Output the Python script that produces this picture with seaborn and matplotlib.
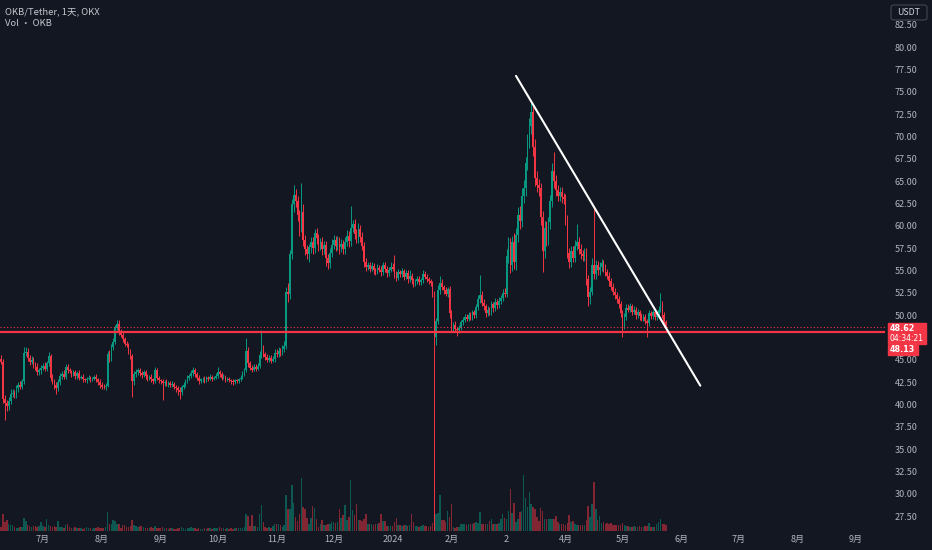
import numpy as np
import pandas as pd
import matplotlib
matplotlib.use("Agg")
import matplotlib.pyplot as plt
import matplotlib.dates as mdates
from matplotlib.patches import Rectangle, FancyBboxPatch
import seaborn as sns


# Datos diarios OKB/USDT, 2023-06-09 .. 2024-05-24
first_open = 45.1

close_jun = [44.8, 40.6, 40.2, 39.8, 40.4, 41.2, 41.3, 41.0, 41.8, 42.2,
             42.0, 42.6, 45.8, 45.9, 45.2, 44.8, 45.0, 44.4, 44.2, 43.6,
             43.8, 44.1]
close_jul = [44.3, 44.0, 44.6, 45.4, 43.0, 42.6, 42.2, 41.8, 42.5, 43.2,
             43.4, 43.1, 44.2, 43.8, 43.7, 43.4, 43.6, 43.2, 43.5, 43.0,
             43.1, 42.8, 42.7, 42.9, 43.0, 42.8, 42.9, 43.1, 42.8, 42.5,
             42.2]
close_aug = [42.0, 41.9, 42.1, 45.6, 45.2, 46.4, 47.0, 48.6, 49.0, 48.2,
             47.8, 47.3, 46.8, 46.6, 46.0, 45.4, 42.6, 43.4, 43.6, 43.8,
             43.5, 43.3, 43.6, 43.2, 42.9, 43.1, 42.8, 42.6, 43.8, 43.0,
             42.7]
close_sep = [42.6, 42.4, 42.5, 42.3, 42.4, 42.2, 42.3, 42.0, 41.8, 41.6,
             41.4, 41.9, 42.2, 42.6, 43.0, 43.2, 43.5, 43.8, 43.4, 43.0,
             42.6, 42.8, 42.9, 42.7, 43.0, 42.9, 43.1, 42.9, 43.0, 43.2]
close_oct = [43.6, 43.4, 43.0, 43.1, 42.8, 42.9, 42.7, 42.6, 42.5, 42.7,
             42.6, 42.8, 43.0, 43.4, 43.8, 46.0, 44.6, 44.1, 43.9, 44.2,
             44.0, 44.3, 45.5, 46.2, 45.6, 45.3, 45.0, 45.2, 44.9, 45.1,
             45.8]
close_nov = [45.6, 46.0, 45.8, 46.2, 46.5, 52.6, 52.4, 56.8, 62.4, 63.5,
             62.8, 61.2, 59.8, 61.6, 58.4, 57.4, 56.9, 57.6, 58.2, 57.5,
             59.2, 58.6, 57.8, 58.2, 57.4, 57.9, 56.4, 55.8, 57.0, 57.9]
close_dec = [58.4, 57.8, 58.3, 57.6, 58.0, 57.4, 58.2, 58.9, 58.3, 59.8,
             60.2, 59.1, 58.6, 59.6, 58.8, 57.8, 56.0, 55.4, 55.6, 55.2,
             55.5, 55.0, 54.9, 55.3, 55.1, 54.8, 55.6, 55.2, 54.7, 55.1,
             55.4]
close_jan = [55.2, 54.6, 54.2, 54.8, 54.6, 54.9, 54.3, 54.7, 54.0, 54.4,
             53.9, 53.6, 53.8, 54.1, 53.7, 53.9, 54.6, 54.3, 54.0, 53.8,
             53.6, 52.4, 47.6, 49.3, 52.8, 53.6, 53.1, 52.8, 52.4, 52.9,
             50.2]
close_feb = [48.6, 48.9, 48.4, 48.3, 48.6, 49.2, 49.5, 49.8, 49.6, 50.0,
             49.7, 50.3, 50.0, 50.9, 51.8, 52.3, 51.4, 51.0, 50.2, 50.6,
             50.3, 51.2, 50.8, 51.5, 51.1, 51.6, 51.9, 52.5, 52.4]
close_mar = [56.6, 57.8, 55.6, 58.2, 56.0, 59.0, 61.2, 60.6, 63.4, 64.2,
             67.0, 69.5, 71.2, 72.8, 68.8, 65.4, 64.6, 64.2, 61.0, 57.2,
             59.8, 58.6, 60.4, 62.8, 66.2, 65.0, 64.0, 63.4, 63.8, 63.2,
             63.0]
close_apr = [60.6, 57.0, 56.0, 57.2, 56.4, 57.8, 58.2, 57.4, 56.8, 56.6,
             57.0, 54.0, 52.0, 52.6, 55.6, 54.6, 55.6, 55.0, 55.4, 55.8,
             55.2, 54.8, 54.4, 53.8, 53.2, 52.6, 52.2, 51.8, 51.2, 50.2]
close_may = [48.8, 49.8, 50.8, 50.6, 51.0, 50.4, 50.6, 50.0, 50.3, 49.9,
             49.6, 49.8, 49.3, 49.1, 50.2, 49.9, 50.3, 49.8, 50.2, 50.6,
             51.2, 50.0, 49.2, 48.62]

# Mechas: lo que sobresale por encima / por debajo del cuerpo
up_jun = [0.4, 0.3, 0.5, 0.3, 0.4, 0.5, 0.4, 0.3, 0.4, 0.3,
          0.4, 0.3, 0.6, 0.5, 0.4, 0.3, 0.4, 0.3, 0.3, 0.4, 0.3, 0.3]
dn_jun = [0.3, 0.4, 1.9, 0.5, 0.4, 0.3, 0.4, 0.3, 0.3, 0.4,
          0.3, 0.3, 0.3, 0.4, 0.3, 0.4, 0.3, 0.3, 0.4, 0.3, 0.3, 0.4]
up_jul = [0.3, 0.4, 0.3, 0.5, 0.3, 0.4, 0.3, 0.3, 0.4, 0.3,
          0.3, 0.4, 0.3, 0.3, 0.3, 0.2, 0.3, 0.3, 0.2, 0.3,
          0.2, 0.3, 0.2, 0.2, 0.3, 0.2, 0.2, 0.2, 0.3, 0.2, 0.3]
dn_jul = [0.3, 0.3, 0.3, 0.3, 0.4, 0.3, 0.5, 0.6, 0.3, 0.3,
          0.3, 0.3, 0.3, 0.3, 0.2, 0.3, 0.2, 0.3, 0.3, 0.3,
          0.2, 0.3, 0.2, 0.3, 0.2, 0.3, 0.2, 0.2, 0.3, 0.3, 0.4]
up_aug = [0.3, 0.3, 0.3, 0.4, 0.5, 0.4, 0.4, 0.3, 0.4, 0.5,
          0.3, 0.4, 0.3, 0.3, 0.3, 0.2, 0.3, 0.3, 0.4, 0.3,
          0.3, 0.2, 0.3, 0.3, 0.2, 0.2, 0.3, 0.2, 0.4, 0.3, 0.2]
dn_aug = [0.3, 0.2, 0.3, 0.2, 0.4, 0.3, 0.3, 0.2, 0.3, 0.4,
          0.3, 0.3, 0.3, 0.2, 0.3, 0.3, 1.8, 0.4, 0.3, 0.3,
          0.3, 0.3, 0.2, 0.3, 0.3, 0.2, 0.3, 0.3, 0.2, 0.3, 0.3]
up_sep = [0.2, 0.3, 0.2, 0.3, 0.2, 0.2, 0.3, 0.2, 0.2, 0.3,
          0.3, 0.3, 0.3, 0.3, 0.3, 0.2, 0.3, 0.4, 0.3, 0.2,
          0.3, 0.2, 0.2, 0.3, 0.2, 0.2, 0.3, 0.2, 0.2, 0.3]
dn_sep = [0.3, 1.9, 0.3, 0.2, 0.3, 0.2, 0.3, 0.3, 0.4, 0.5,
          0.8, 0.3, 0.2, 0.2, 0.2, 0.3, 0.2, 0.3, 0.3, 0.3,
          0.3, 0.2, 0.3, 0.3, 0.2, 0.3, 0.2, 0.3, 0.2, 0.2]
up_oct = [0.6, 0.3, 0.2, 0.3, 0.2, 0.2, 0.2, 0.2, 0.2, 0.2,
          0.2, 0.2, 0.3, 0.3, 0.3, 1.4, 0.4, 0.3, 0.3, 0.3,
          0.3, 0.3, 0.5, 2.1, 0.4, 0.3, 0.3, 0.3, 0.3, 0.3, 0.4]
dn_oct = [0.2, 0.3, 0.3, 0.2, 0.3, 0.2, 0.2, 0.3, 0.3, 0.2,
          0.2, 0.2, 0.2, 0.2, 0.2, 0.2, 0.4, 0.3, 0.3, 0.2,
          0.3, 0.2, 0.2, 0.3, 0.3, 0.3, 0.2, 0.3, 0.3, 0.2, 0.3]
up_nov = [0.4, 0.4, 0.3, 0.4, 0.6, 0.6, 1.0, 0.5, 0.6, 1.1,
          0.6, 0.5, 0.6, 3.2, 0.8, 0.6, 0.5, 0.4, 0.5, 0.5,
          0.5, 0.6, 0.5, 0.4, 0.5, 0.4, 0.4, 0.5, 0.5, 0.6]
dn_nov = [0.3, 0.3, 0.4, 0.3, 0.3, 0.3, 0.9, 0.6, 0.5, 0.8,
          0.7, 0.6, 0.9, 0.5, 0.6, 0.7, 0.6, 0.9, 0.6, 0.7,
          0.5, 0.6, 0.6, 0.5, 0.7, 0.5, 0.9, 0.6, 0.5, 0.5]
up_dec = [0.6, 0.5, 0.6, 0.5, 0.5, 0.4, 0.5, 0.6, 0.5, 2.4,
          0.5, 0.6, 0.5, 0.7, 0.5, 0.5, 0.4, 0.4, 0.4, 0.3,
          0.4, 0.3, 0.3, 0.4, 0.3, 0.4, 0.4, 0.3, 0.3, 0.3, 0.6]
dn_dec = [0.5, 0.6, 0.5, 0.7, 0.5, 0.6, 0.5, 0.5, 0.7, 0.5,
          0.5, 0.6, 0.5, 0.5, 0.6, 0.5, 0.6, 0.5, 0.4, 0.4,
          0.3, 0.4, 0.4, 0.3, 0.3, 0.4, 0.3, 0.4, 0.4, 0.3, 0.3]
up_jan = [0.4, 1.5, 0.3, 0.4, 0.3, 0.4, 0.3, 0.4, 0.3, 0.6,
          0.3, 0.3, 0.3, 0.3, 0.3, 0.3, 0.5, 0.3, 0.3, 0.3,
          0.3, 0.2, 0.3, 0.4, 0.6, 0.8, 0.4, 0.3, 0.3, 0.3, 0.4]
dn_jan = [0.3, 0.4, 0.4, 0.3, 0.3, 0.3, 0.4, 0.3, 0.4, 0.3,
          0.4, 0.4, 0.3, 0.3, 0.3, 0.3, 0.3, 0.3, 0.3, 0.3,
          0.3, 0.4, 22.6, 0.9, 0.3, 0.4, 0.3, 0.4, 0.3, 0.4, 0.5]
up_feb = [0.4, 0.3, 0.4, 0.3, 0.3, 0.3, 0.3, 0.3, 0.3, 0.3,
          0.3, 0.3, 0.3, 0.4, 0.5, 2.2, 0.4, 0.4, 0.3, 0.4,
          0.3, 0.4, 0.3, 0.4, 0.3, 0.4, 0.4, 0.4, 0.5]
dn_feb = [0.4, 0.5, 0.3, 0.6, 0.3, 0.3, 0.3, 0.3, 0.3, 0.3,
          0.3, 0.3, 0.3, 0.3, 0.3, 0.4, 0.4, 0.4, 0.4, 0.3,
          0.3, 0.3, 0.4, 0.3, 0.4, 0.3, 0.4, 0.3, 0.4]
up_mar = [0.8, 0.9, 0.8, 0.7, 1.0, 0.8, 0.9, 1.0, 0.8, 0.9,
          0.7, 0.8, 0.9, 1.0, 0.8, 0.9, 0.8, 0.6, 0.6, 0.7,
          0.7, 0.8, 0.6, 0.7, 0.8, 2.1, 0.7, 0.6, 0.6, 0.6, 0.5]
dn_mar = [0.4, 0.8, 0.9, 0.7, 0.8, 0.9, 0.8, 0.9, 0.7, 0.8,
          0.9, 0.7, 0.8, 0.9, 1.0, 0.9, 0.8, 0.9, 0.9, 2.4,
          0.8, 0.9, 0.7, 0.8, 0.7, 0.8, 0.7, 0.6, 0.6, 0.6, 0.6]
up_apr = [0.6, 0.6, 0.5, 0.6, 0.5, 0.6, 2.0, 0.5, 0.6, 0.5,
          0.5, 0.5, 0.5, 0.6, 0.8, 6.4, 0.6, 0.5, 0.5, 0.5,
          0.4, 0.5, 0.4, 0.4, 0.4, 0.4, 0.4, 0.4, 0.3, 0.4]
dn_apr = [0.5, 0.6, 0.7, 0.6, 0.5, 0.5, 0.5, 0.5, 0.5, 0.5,
          0.5, 0.6, 1.0, 0.8, 0.4, 0.6, 0.5, 0.5, 0.5, 0.5,
          0.4, 0.4, 0.4, 0.5, 0.4, 0.4, 0.4, 0.4, 0.4, 0.4]
up_may = [0.4, 0.4, 0.5, 0.4, 0.4, 0.3, 0.4, 0.3, 0.4, 0.3,
          0.3, 0.3, 0.3, 0.3, 0.4, 0.3, 0.3, 0.3, 0.3, 0.4,
          1.3, 0.4, 0.3, 0.3]
dn_may = [1.3, 0.4, 0.3, 0.3, 0.3, 0.4, 0.3, 0.4, 0.3, 0.4,
          0.3, 0.3, 0.3, 1.6, 0.3, 0.3, 0.3, 0.3, 0.3, 0.3,
          0.3, 0.3, 0.3, 0.4]

# Volumen (miles de OKB, estimado)
vol_jun = [4, 17, 9, 11, 7, 6, 6, 4, 3, 3, 4, 4, 13, 10, 6, 5, 4, 5, 5, 4, 5, 9]
vol_jul = [5, 4, 12, 6, 5, 4, 5, 4, 10, 4, 4, 3, 6, 7, 4, 3, 3, 4, 3, 3,
           3, 2, 3, 4, 3, 3, 2, 3, 3, 4, 3]
vol_aug = [3, 3, 4, 19, 7, 7, 11, 10, 7, 7, 3, 6, 6, 4, 4, 5, 11, 6, 5, 4,
           5, 5, 4, 3, 3, 3, 4, 3, 5, 3, 3]
vol_sep = [3, 4, 3, 3, 2, 3, 3, 2, 2, 3, 3, 4, 3, 2, 3, 3, 4, 3, 3, 2,
           3, 2, 2, 3, 2, 3, 3, 2, 3, 3]
vol_oct = [3, 4, 3, 3, 2, 3, 2, 3, 2, 3, 3, 3, 3, 3, 4, 17, 15, 5, 16, 5,
           5, 4, 17, 26, 9, 4, 3, 4, 3, 5, 7]
vol_nov = [7, 7, 6, 4, 6, 36, 22, 22, 46, 28, 14, 10, 17, 53, 24, 22, 13, 7, 13, 25,
           23, 12, 4, 7, 11, 6, 6, 7, 7, 9]
vol_dec = [9, 8, 9, 22, 13, 16, 26, 11, 14, 51, 21, 16, 27, 11, 11, 10, 12, 17, 7, 7,
           7, 6, 7, 7, 8, 17, 10, 10, 5, 5, 5]
vol_jan = [5, 9, 13, 6, 6, 5, 6, 6, 5, 6, 17, 9, 5, 5, 4, 5, 6, 5, 5, 4,
           5, 8, 130, 17, 18, 36, 11, 11, 9, 20, 14]
vol_feb = [27, 4, 3, 4, 4, 7, 7, 7, 6, 7, 7, 7, 8, 9, 8, 19, 7, 7, 7, 7,
           10, 12, 7, 7, 7, 8, 12, 17, 13]
vol_mar = [12, 20, 42, 18, 28, 9, 12, 19, 20, 56, 33, 24, 39, 27, 24, 22, 14, 10, 23, 20,
           12, 12, 12, 12, 12, 12, 15, 9, 7, 7, 7]
vol_apr = [6, 8, 16, 9, 10, 7, 6, 6, 6, 6, 6, 11, 25, 14, 27, 49, 22, 11, 15, 8,
           9, 7, 8, 7, 8, 6, 6, 6, 6, 6]
vol_may = [8, 6, 5, 5, 4, 4, 5, 4, 4, 5, 4, 4, 5, 5, 8, 4, 4, 4, 7, 9,
           12, 7, 7, 6]

# Etiquetas del eje x (inicio de cada mes)
month_starts = pd.date_range("2023-07-01", "2024-09-01", freq="MS")
month_labels = ["7月", "8月", "9月", "10月", "11月", "12月", "2024", "2月",
                "2", "4月", "5月", "6月", "7月", "8月", "9月"]
# Eje de precios: la marca 47.50 queda tapada por las etiquetas rojas
price_ticks = [27.5, 30.0, 32.5, 35.0, 37.5, 40.0, 42.5, 45.0, 50.0, 52.5,
               55.0, 57.5, 60.0, 62.5, 65.0, 67.5, 70.0, 72.5, 75.0, 77.5,
               80.0, 82.5]

# Línea de tendencia dibujada y líneas horizontales
trend_dates = ["2024-03-06", "2024-06-11"]
trend_prices = [76.8, 42.1]
last_price = 48.62
level_price = 48.13
countdown = "04:34:21"

# Armar el DataFrame
close = (close_jun + close_jul + close_aug + close_sep + close_oct + close_nov +
         close_dec + close_jan + close_feb + close_mar + close_apr + close_may)
up = (up_jun + up_jul + up_aug + up_sep + up_oct + up_nov +
      up_dec + up_jan + up_feb + up_mar + up_apr + up_may)
dn = (dn_jun + dn_jul + dn_aug + dn_sep + dn_oct + dn_nov +
      dn_dec + dn_jan + dn_feb + dn_mar + dn_apr + dn_may)
vol = (vol_jun + vol_jul + vol_aug + vol_sep + vol_oct + vol_nov +
       vol_dec + vol_jan + vol_feb + vol_mar + vol_apr + vol_may)

df = pd.DataFrame({
    "date": pd.date_range("2023-06-09", "2024-05-24", freq="D"),
    "close": close,
    "up": up,
    "dn": dn,
    "vol": vol,
})
df["open"] = [first_open] + close[:-1]
df["high"] = df[["open", "close"]].max(axis=1) + df["up"]
df["low"] = df[["open", "close"]].min(axis=1) - df["dn"]
df["x"] = mdates.date2num(df["date"])

GREEN = "#089981"
RED = "#f23645"
BG = "#131722"
TXT = "#b2b5be"

sns.set_theme(style="dark", rc={"axes.facecolor": BG, "figure.facecolor": BG})
plt.rcParams["font.family"] = ["Noto Sans CJK SC", "DejaVu Sans"]

fig = plt.figure(figsize=(9.32, 5.5), dpi=100)
ax_v = fig.add_axes([0, 19 / 550, 885 / 932, 531 / 550])
ax = ax_v.twinx()
ax.set_zorder(ax_v.get_zorder() + 1)
ax.patch.set_visible(False)

# Volumen en el fondo
vol_cols = np.where(df["close"] >= df["open"], GREEN, RED)
ax_v.bar(df["x"], df["vol"], width=0.75, color=vol_cols, alpha=0.5, linewidth=0)
ax_v.set_ylim(0, 531)
ax_v.set_yticks([])

# Velas
cols = np.where(df["close"] >= df["open"], GREEN, RED)
ax.vlines(df["x"], df["low"], df["high"], colors=cols, linewidth=0.7)
body_lo = df[["open", "close"]].min(axis=1)
body_h = np.maximum((df["close"] - df["open"]).abs(), 0.07)
ax.bar(df["x"], body_h, bottom=body_lo, width=0.8, color=cols, linewidth=0)

# Líneas horizontales de precio
ax.axhline(level_price, color=RED, linewidth=1.6)
ax.axhline(last_price, color=RED, linewidth=0.8, linestyle=(0, (1, 2)))

# Línea de tendencia
trend = pd.DataFrame({"x": mdates.date2num(pd.to_datetime(trend_dates)),
                      "price": trend_prices})
sns.lineplot(data=trend, x="x", y="price", ax=ax, color="white", linewidth=1.5)

# Ejes
x_left = mdates.date2num(pd.Timestamp("2023-06-08 10:00"))
x_right = mdates.date2num(pd.Timestamp("2024-09-16 05:00"))
ax.set_xlim(x_left, x_right)
ax.set_ylim(25.82, 85.3)
ax.set_xticks(mdates.date2num(month_starts))
ax_v.set_xticks(mdates.date2num(month_starts))
ax_v.set_xticklabels(month_labels, color=TXT, fontsize=6.5)
ax.set_yticks(price_ticks)
ax.set_yticklabels([f"{p:.2f}" for p in price_ticks], color=TXT, fontsize=6.5)
ax.yaxis.tick_right()
ax.tick_params(axis="y", length=0, pad=7)
ax.tick_params(axis="x", length=0, labelbottom=False)
ax_v.tick_params(axis="x", length=0, pad=3)
ax.set_xlabel("")
ax.set_ylabel("")
for a in (ax, ax_v):
    a.grid(False)
    for s in a.spines.values():
        s.set_visible(False)

# Leyenda superior izquierda
fig.text(5 / 932, 1 - 12 / 550, "OKB/Tether, 1天, OKX", color="#c4c6cc",
         fontsize=6.8, va="center", ha="left")
fig.text(5 / 932, 1 - 24 / 550, "Vol • OKB", color="#c4c6cc",
         fontsize=6.8, va="center", ha="left")

# Caja USDT
fig.add_artist(FancyBboxPatch((891 / 932, 1 - 20 / 550), 36 / 932, 15 / 550,
                              boxstyle="round,pad=0,rounding_size=0.004",
                              transform=fig.transFigure, facecolor=BG,
                              edgecolor="#434651", linewidth=0.8))
fig.text(909 / 932, 1 - 12.5 / 550, "USDT", color="#d1d4dc", fontsize=6.3,
         ha="center", va="center")

# Etiquetas de precio a la derecha
fig.add_artist(Rectangle((888 / 932, 1 - 344 / 550), 38 / 932, 21 / 550,
                         transform=fig.transFigure, color=RED))
fig.text(890 / 932, 1 - 328.5 / 550, f"{last_price:.2f}", color="white",
         fontsize=5.8, fontweight="bold", va="center", ha="left",
         family="DejaVu Sans")
fig.text(890 / 932, 1 - 338.5 / 550, countdown, color="white",
         fontsize=5.5, va="center", ha="left", family="DejaVu Sans")
fig.add_artist(Rectangle((888 / 932, 1 - 355 / 550), 30 / 932, 10 / 550,
                         transform=fig.transFigure, color=RED))
fig.text(890 / 932, 1 - 350 / 550, f"{level_price:.2f}", color="white",
         fontsize=5.8, fontweight="bold", va="center", ha="left",
         family="DejaVu Sans")

fig.savefig("out.png", dpi=100, facecolor=BG)
